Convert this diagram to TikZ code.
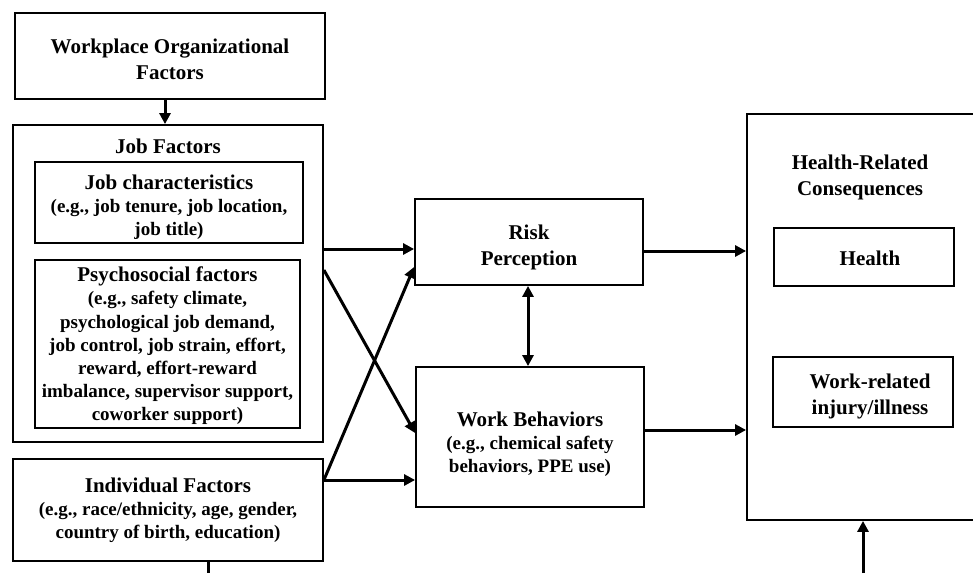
\documentclass[tikz,border=0pt]{standalone}
\usepackage{fontspec}
\setmainfont{Liberation Serif}
\usetikzlibrary{arrows.meta}
\newcommand{\bigtxt}{\fontsize{21}{26}\selectfont}
\newcommand{\smalltxt}{\fontsize{19}{23.2}\selectfont}

\begin{document}
\begin{tikzpicture}[x=1pt,y=-1pt,
	outerbox/.style={draw, line width=1.8pt, inner sep=0pt},
	innerbox/.style={draw, line width=1.1pt, inner sep=0pt},
	titletext/.style={font=\bfseries\bigtxt, align=center, inner sep=0pt},
	notetext/.style={font=\bfseries\smalltxt, align=center, inner sep=0pt},
	arr/.style={line width=3pt, -{Triangle[length=11pt,width=11pt]}},
	dblarr/.style={line width=3pt, {Triangle[length=11pt,width=11pt]}-{Triangle[length=11pt,width=11pt]}}]
		%%%%% START %%%%%
		\useasboundingbox (0,0) rectangle (973,573);
		
		% left column
		\node[outerbox, minimum width=310, minimum height=86] (org) at (170,56) {};
		\node[titletext] (orgtxt) at (170,59) {Workplace Organizational\\ Factors};
		
		\node[outerbox, minimum width=310, minimum height=317] (jobf) at (168,283.5) {};
		\node[titletext] (jobftxt) at (168,146) {Job Factors};
		
		\node[innerbox, minimum width=268, minimum height=81] (jobc) at (169,202.5) {};
		\node[notetext] (jobctxt) at (169,207)
			{{\bigtxt Job characteristics}\\ (e.g., job tenure, job location,\\ job title)};
		
		\node[innerbox, minimum width=265, minimum height=168] (psy) at (167.5,344) {};
		\node[notetext] (psytxt) at (167.5,346)
			{{\bigtxt Psychosocial factors}\\ (e.g., safety climate,\\ psychological job demand,\\
			 job control, job strain, effort,\\ reward, effort-reward\\
			 imbalance, supervisor support,\\ coworker support)};
		
		\node[outerbox, minimum width=310, minimum height=102] (indiv) at (168,510) {};
		\node[notetext] (indivtxt) at (168,510)
			{{\bigtxt Individual Factors}\\ (e.g., race/ethnicity, age, gender,\\ country of birth, education)};
		
		% middle column
		\node[outerbox, minimum width=228, minimum height=86] (risk) at (529,242) {};
		\node[titletext] (risktxt) at (529,247) {Risk\\ Perception};
		
		\node[outerbox, minimum width=228, minimum height=140] (work) at (530,437) {};
		\node[notetext] (worktxt) at (530,444)
			{{\bigtxt Work Behaviors}\\ (e.g., chemical safety\\ behaviors, PPE use)};
		
		% right column
		\node[outerbox, minimum width=243, minimum height=406] (hrc) at (868.5,317) {};
		\node[titletext] (hrctxt) at (860,177) {Health-Related\\ Consequences};
		
		\node[innerbox, minimum width=180, minimum height=58] (health) at (864,257) {};
		\node[titletext] (healthtxt) at (870,258) {Health};
		
		\node[innerbox, minimum width=180, minimum height=70] (wri) at (863,392) {};
		\node[titletext] (writxt) at (870,396) {Work-related\\ injury/illness};
		
		% connectors
		\draw[arr] (org.south -| 165,0) -- (jobf.north -| 165,0);
		\draw[arr] (jobf.east |- 0,249) -- (risk.west |- 0,249);
		\draw[arr] (jobf.east |- 0,270) -- (work.west |- 0,433);
		\draw[arr] (indiv.east |- 0,480) -- (risk.west |- 0,267);
		\draw[arr] (indiv.east |- 0,480) -- (work.west |- 0,480);
		\draw[dblarr] (risk.south -| 528,0) -- (work.north -| 528,0);
		\draw[arr] (risk.east |- 0,251) -- (hrc.west |- 0,251);
		\draw[arr] (work.east |- 0,430) -- (hrc.west |- 0,430);
		
		\coordinate (indivout) at (208,573);
		\coordinate (hrcin) at (863,573);
		\draw[line width=3pt] (indiv.south -| indivout) -- (indivout);
		\draw[arr] (hrcin) -- (hrc.south -| hrcin);
		%%%%% END %%%%%
\end{tikzpicture}
\end{document}
